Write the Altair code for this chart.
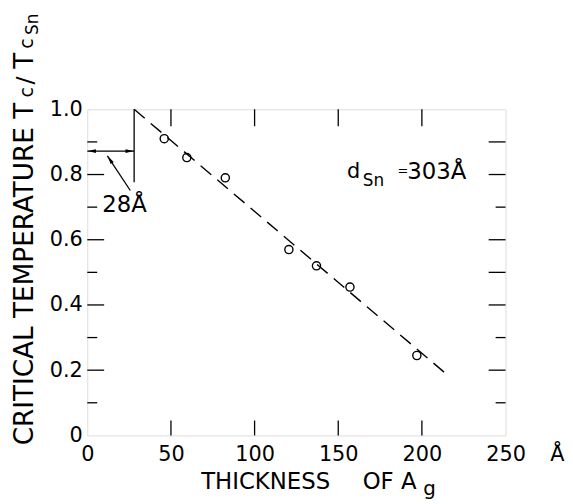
import altair as alt
import pandas as pd

# ---- data ----
ag_thickness = [46, 59.5, 82.5, 120.5, 137, 157, 197]
tc_ratio = [0.91, 0.852, 0.79, 0.57, 0.52, 0.455, 0.245]

fit_x = [28, 216.5]
fit_y = [1.0, 0.18]

x_tick_values = [0, 50, 100, 150, 200, 250]
y_tick_values = [0, 0.2, 0.4, 0.6, 0.8, 1.0]
x_inner_ticks = [50, 100, 150, 200]
left_major = [0.2, 0.4, 0.6, 0.8]
left_minor = [0.1, 0.3, 0.5, 0.7, 0.9]
right_long = [0.2, 0.4, 0.5, 0.6, 0.8, 0.9]
right_short = [0.1, 0.3, 0.7]

offset_x = 28          # the 28 Å offset
offset_arrow_y = 0.872
offset_line_bottom = 0.776

FONT = "DejaVu Sans"
W, H = 422, 329

xscale = alt.Scale(domain=[0, 250], nice=False, zero=False)
yscale = alt.Scale(domain=[0, 1], nice=False, zero=False)

XENC = alt.X("x:Q", scale=xscale, axis=alt.Axis(
    values=x_tick_values, ticks=False, tickSize=0, domain=False, grid=False,
    labelFont=FONT, labelFontSize=21, labelColor="black", labelPadding=8,
    labelFlush=False, labelOverlap=False, title=None))
YENC = alt.Y("y:Q", scale=yscale, axis=alt.Axis(
    values=y_tick_values, ticks=False, tickSize=0, domain=False, grid=False,
    labelFont=FONT, labelFontSize=21, labelColor="black", labelPadding=5,
    labelFlush=False, labelOverlap=False, title=None,
    labelExpr="datum.value == 0 ? '0' : format(datum.value, '.1f')"))

points = alt.Chart(pd.DataFrame({"x": ag_thickness, "y": tc_ratio})).mark_point(
    shape="circle", size=68, filled=False, color="black", strokeWidth=1.4, opacity=1
).encode(x=XENC, y=YENC)

fit = alt.Chart(pd.DataFrame({"x": fit_x, "y": fit_y})).mark_line(
    color="black", strokeWidth=1.4, strokeDash=[14, 8]
).encode(x=XENC, y=YENC)

# ---- frame ticks (inward) ----
def hticks(vals, x0, x1):
    return alt.Chart(pd.DataFrame({"y": vals})).mark_rule(color="black", strokeWidth=1.3).encode(
        y=YENC, x=alt.value(x0), x2=alt.value(x1))

def vticks(vals, y0, y1):
    return alt.Chart(pd.DataFrame({"x": vals})).mark_rule(color="black", strokeWidth=1.3).encode(
        x=XENC, y=alt.value(y0), y2=alt.value(y1))

ticks = [
    hticks(left_major, 0, 17), hticks(left_minor, 0, 10),
    hticks(right_long, W - 17, W), hticks(right_short, W - 10, W),
    vticks(x_inner_ticks, 0, 17), vticks(x_inner_ticks, H - 15, H),
]

# ---- 28 Å offset annotation ----
vline = alt.Chart(pd.DataFrame({"x": [offset_x], "y": [1.0], "y2": [offset_line_bottom]})).mark_rule(
    color="black", strokeWidth=1.3).encode(x=XENC, y=YENC, y2="y2:Q")
harrow = alt.Chart(pd.DataFrame({"x": [0], "x2": [offset_x], "y": [offset_arrow_y]})).mark_rule(
    color="black", strokeWidth=1.3).encode(x=XENC, x2="x2:Q", y=YENC)
leader = alt.Chart(pd.DataFrame({"x": [12.0], "x2": [25.7], "y": [0.857], "y2": [0.751]})).mark_rule(
    color="black", strokeWidth=1.3).encode(x=XENC, x2="x2:Q", y=YENC, y2="y2:Q")

arrow_path = "M1,0L-1,-0.45L-1,0.45Z"
heads_df = pd.DataFrame({"x": [2.7, 25.3, 13.5], "y": [offset_arrow_y, offset_arrow_y, 0.846],
                         "a": [180, 0, 236]})
heads = alt.Chart(heads_df).mark_point(shape=arrow_path, filled=True, color="black", size=70, opacity=1).encode(
    x=XENC, y=YENC, angle=alt.Angle("a:Q", scale=None))

def dtext(txt, x, y, size, align="left"):
    return alt.Chart(pd.DataFrame({"x": [x], "y": [y]})).mark_text(
        text=txt, font=FONT, fontSize=size, color="black", align=align, baseline="alphabetic").encode(
        x=XENC, y=YENC)

def ptext(txt, x, y, size, align="left", angle=0):
    return alt.Chart(pd.DataFrame({"x": [0], "y": [0]})).mark_text(
        text=txt, font=FONT, fontSize=size, color="black", align=align, baseline="alphabetic",
        angle=angle).encode(x=alt.value(x), y=alt.value(y))

labels = [
    dtext("28Å", 8.9, 0.684, 23),
    dtext("d", 155.2, 0.790, 21),
    dtext("Sn", 164.7, 0.766, 17),
    dtext("=", 185.4, 0.80, 13),
    dtext("303Å", 191.3, 0.787, 23),
    dtext("Å", 281, -0.079, 21, align="center"),
    # x title
    ptext("THICKNESS", 180, 383, 23, align="center"),
    ptext("OF A", 305, 383, 23, align="center"),
    ptext("g", 339, 389, 20),
    # y title (rotated)
    ptext("CRITICAL TEMPERATURE T", -55, 339, 26.5, angle=270),
    ptext("c", -55, -12, 19, angle=270),
    ptext("/", -55, -25, 24, angle=270),
    ptext("T", -55, -41, 26.5, angle=270),
    ptext("c", -55, -61, 19, angle=270),
    ptext("Sn", -50, -75, 17, angle=270),
]

chart = alt.layer(points, fit, *ticks, vline, harrow, leader, heads, *labels).properties(
    width=W, height=H,
    autosize=alt.AutoSizeParams(type="none"),
    padding={"left": 80, "top": 100, "right": 60, "bottom": 66},
).configure_view(stroke="black", strokeWidth=1.6).configure(background="white")

chart.save("out.html", embed_options={"renderer": "svg", "actions": False})
